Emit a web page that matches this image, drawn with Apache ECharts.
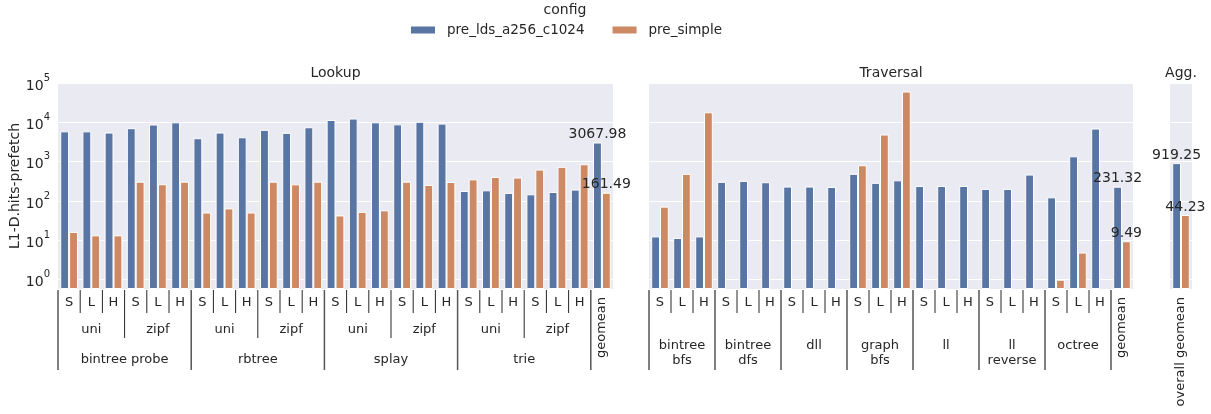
<!DOCTYPE html>
<html>
<head>
<meta charset="utf-8">
<script src="https://cdn.jsdelivr.net/npm/echarts@6/dist/echarts.min.js"></script>
<style>
  html, body { margin: 0; padding: 0; background: #ffffff; }
  #chart { width: 1211px; height: 414px; }
</style>
</head>
<body>
<div id="chart"></div>
<script>
// ---- data ----
const seriesNames = ['pre_lds_a256_c1024', 'pre_simple'];
const sizeLabels = ['S', 'L', 'H'];
const distLabels = ['uni', 'zipf'];
const lookupGroups = ['bintree probe', 'rbtree', 'splay', 'trie'];
const traversalGroups = ['bintree\nbfs', 'bintree\ndfs', 'dll', 'graph\nbfs', 'll', 'll\nreverse', 'octree'];
const panelTitles = ['Lookup', 'Traversal', 'Agg.'];
const geomeanLabel = 'geomean';
const overallLabel = 'overall geomean';

// Lookup: group x distribution x size
const lookupLds = [5900, 5900, 5500, 7100, 8800, 10000,
                   3950, 5500, 4170, 6450, 5400, 7500,
                   11500, 12500, 10000, 8900, 10300, 9300,
                   180, 187, 161, 148, 170, 195];
const lookupSimple = [16.3, 13.4, 13.4, 310, 267, 310,
                      51, 65, 51, 310, 265, 310,
                      43, 53, 58, 310, 257, 305,
                      355, 410, 395, 630, 740, 860];
const lookupGeomean = [3067.98, 161.49];

// Traversal: group x size
const traversalLds = [12.6, 11.5, 12.6, 307, 325, 300, 233, 233, 228,
                      490, 290, 336, 241, 241, 241, 203, 203, 470,
                      124, 1370, 6950];
const traversalSimple = [72, 490, 18000, null, null, null, null, null, null,
                         810, 4900, 60600, null, null, null, null, null, null,
                         1.0, 4.9, null];
const traversalGeomean = [231.32, 9.49];

const overallGeomean = [919.25, 44.23];

// ---- styling ----
const COLORS = ['#5975A4', '#CC8963'];
const TEXT = '#262626';
const FONT = 'DejaVu Sans';
const Y_MIN = 0.58, Y_MAX = 100000;

// ---- category lists ----
const lookupCats = [];
lookupGroups.forEach(g => distLabels.forEach(d => sizeLabels.forEach(s => lookupCats.push(g + '|' + d + '|' + s))));
lookupCats.push('lookup|' + geomeanLabel);
const traversalCats = [];
traversalGroups.forEach(g => sizeLabels.forEach(s => traversalCats.push(g + '|' + s)));
traversalCats.push('traversal|' + geomeanLabel);
const aggCats = [overallLabel];

function withGeomean(values, gm) {
  const out = values.map(v => v);
  out.push({
    value: gm,
    label: {
      show: true, position: 'top', distance: 1, lineHeight: 14,
      color: TEXT, fontSize: 14, fontFamily: FONT,
      formatter: p => Number(p.value).toFixed(2)
    }
  });
  return out;
}

const grids = [
  { left: 58, top: 83, width: 555, height: 206 },
  { left: 649, top: 83, width: 484, height: 206 },
  { left: 1170, top: 83, width: 22, height: 206 }
];

function yAxisFor(i) {
  return {
    type: 'log', logBase: 10, gridIndex: i,
    min: Y_MIN, max: Y_MAX, startValue: Y_MIN,
    name: i === 0 ? 'L1-D.hits-prefetch' : '',
    nameLocation: 'middle', nameGap: 34,
    nameTextStyle: { color: TEXT, fontSize: 14, fontFamily: FONT },
    axisLine: { show: false }, axisTick: { show: false },
    splitLine: { show: true, lineStyle: { color: '#ffffff', width: 1 } },
    axisLabel: {
      show: i === 0, margin: 8, color: TEXT, fontFamily: FONT,
      formatter: v => {
        const e = Math.log10(v), r = Math.round(e);
        if (Math.abs(e - r) > 1e-6) return '';
        return '{b|10}{sup|' + r + '}';
      },
      rich: {
        b: { fontSize: 14, color: TEXT, fontFamily: FONT, lineHeight: 20, verticalAlign: 'bottom' },
        sup: { fontSize: 10, color: TEXT, fontFamily: FONT, verticalAlign: 'top' }
      }
    }
  };
}

function xAxisFor(i, cats) {
  return {
    type: 'category', gridIndex: i, data: cats,
    axisLine: { show: false }, axisTick: { show: false }, axisLabel: { show: false },
    splitLine: { show: false }
  };
}

function barSeries(name, idx, axis, data) {
  return {
    type: 'bar', name: name, xAxisIndex: axis, yAxisIndex: axis,
    data: data, barGap: '0%', barCategoryGap: '20%',
    itemStyle: { color: COLORS[idx], borderColor: '#ffffff', borderWidth: 1 },
    emphasis: { disabled: true }
  };
}

const option = {
  animation: false,
  textStyle: { fontFamily: FONT },
  grid: grids.map(g => Object.assign({ show: true, backgroundColor: '#EAEAF2', borderWidth: 0 }, g)),
  legend: {
    data: seriesNames, left: 409, top: 23, padding: 0,
    itemWidth: 26, itemHeight: 9, itemGap: 26, icon: 'rect',
    textStyle: { color: TEXT, fontSize: 13.5, fontFamily: FONT, padding: [0, 0, 0, 6] },
    selectedMode: false
  },
  xAxis: [xAxisFor(0, lookupCats), xAxisFor(1, traversalCats), xAxisFor(2, aggCats)],
  yAxis: [yAxisFor(0), yAxisFor(1), yAxisFor(2)],
  series: [
    barSeries(seriesNames[0], 0, 0, withGeomean(lookupLds, lookupGeomean[0])),
    barSeries(seriesNames[1], 1, 0, withGeomean(lookupSimple, lookupGeomean[1])),
    barSeries(seriesNames[0], 0, 1, withGeomean(traversalLds, traversalGeomean[0])),
    barSeries(seriesNames[1], 1, 1, withGeomean(traversalSimple, traversalGeomean[1])),
    barSeries(seriesNames[0], 0, 2, withGeomean([], overallGeomean[0])),
    barSeries(seriesNames[1], 1, 2, withGeomean([], overallGeomean[1]))
  ]
};

const chart = echarts.init(document.getElementById('chart'));
chart.setOption(option);

// ---- hierarchical x-axis labels, separators and panel titles ----
const TICK_TOP = 290;
const elements = [];
function text(str, x, y, extra) {
  const style = Object.assign({
    text: str, x: 0, y: 0, fill: TEXT,
    font: '13px "' + FONT + '"', fontSize: 13, fontFamily: FONT,
    align: 'center', verticalAlign: 'middle',
    textAlign: 'center', textVerticalAlign: 'middle', lineHeight: 15
  }, extra || {});
  return { type: 'text', x: x, y: y, silent: true, style: style };
}
function vline(x, y2, strong) {
  return {
    type: 'line', silent: true,
    shape: { x1: x, y1: TICK_TOP, x2: x, y2: y2 },
    style: { stroke: strong ? '#555555' : '#262626', lineWidth: strong ? 1.5 : 1 }
  };
}
function centers(axisIndex, cats) {
  return cats.map(c => chart.convertToPixel({ xAxisIndex: axisIndex }, c));
}

// Lookup panel
(function () {
  const cx = centers(0, lookupCats);
  const band = (cx[cx.length - 1] - cx[0]) / (cx.length - 1);
  for (let b = 0; b < cx.length; b++) {
    const x = cx[b] - band / 2;
    if (b % 6 === 0) elements.push(vline(x, 370, true));
    else if (b % 3 === 0) elements.push(vline(x, 338, false));
    else elements.push(vline(x, 313, false));
  }
  for (let i = 0; i < lookupCats.length - 1; i++) elements.push(text(sizeLabels[i % 3], cx[i], 303));
  for (let j = 0; j < lookupGroups.length * 2; j++) elements.push(text(distLabels[j % 2], cx[3 * j + 1], 330));
  lookupGroups.forEach((g, k) => elements.push(text(g, (cx[6 * k + 2] + cx[6 * k + 3]) / 2, 360)));
  elements.push(Object.assign(text(geomeanLabel, cx[cx.length - 1], 297, { align: 'right', textAlign: 'right' }), { rotation: Math.PI / 2 }));
  elements.push(text(panelTitles[0], (cx[0] + cx[cx.length - 1]) / 2, 73, { fontSize: 14, font: '14px "' + FONT + '"' }));
})();

// Traversal panel
(function () {
  const cx = centers(1, traversalCats);
  const band = (cx[cx.length - 1] - cx[0]) / (cx.length - 1);
  for (let b = 0; b < cx.length; b++) {
    const x = cx[b] - band / 2;
    if (b % 3 === 0) elements.push(vline(x, 370, true));
    else elements.push(vline(x, 313, false));
  }
  for (let i = 0; i < traversalCats.length - 1; i++) elements.push(text(sizeLabels[i % 3], cx[i], 303));
  traversalGroups.forEach((g, k) => elements.push(text(g, cx[3 * k + 1], 338, { verticalAlign: 'top', textVerticalAlign: 'top' })));
  elements.push(Object.assign(text(geomeanLabel, cx[cx.length - 1], 297, { align: 'right', textAlign: 'right' }), { rotation: Math.PI / 2 }));
  elements.push(text(panelTitles[1], (cx[0] + cx[cx.length - 1]) / 2, 73, { fontSize: 14, font: '14px "' + FONT + '"' }));
})();

// Aggregate panel
(function () {
  const cx = centers(2, aggCats);
  elements.push(Object.assign(text(overallLabel, cx[0], 297, { align: 'right', textAlign: 'right' }), { rotation: Math.PI / 2 }));
  elements.push(text(panelTitles[2], cx[0], 73, { fontSize: 14, font: '14px "' + FONT + '"' }));
})();

// legend heading
elements.push(text('config', 565, 10, { fontSize: 14, font: '14px "' + FONT + '"' }));

chart.setOption({ graphic: { elements: elements } });
</script>
</body>
</html>
